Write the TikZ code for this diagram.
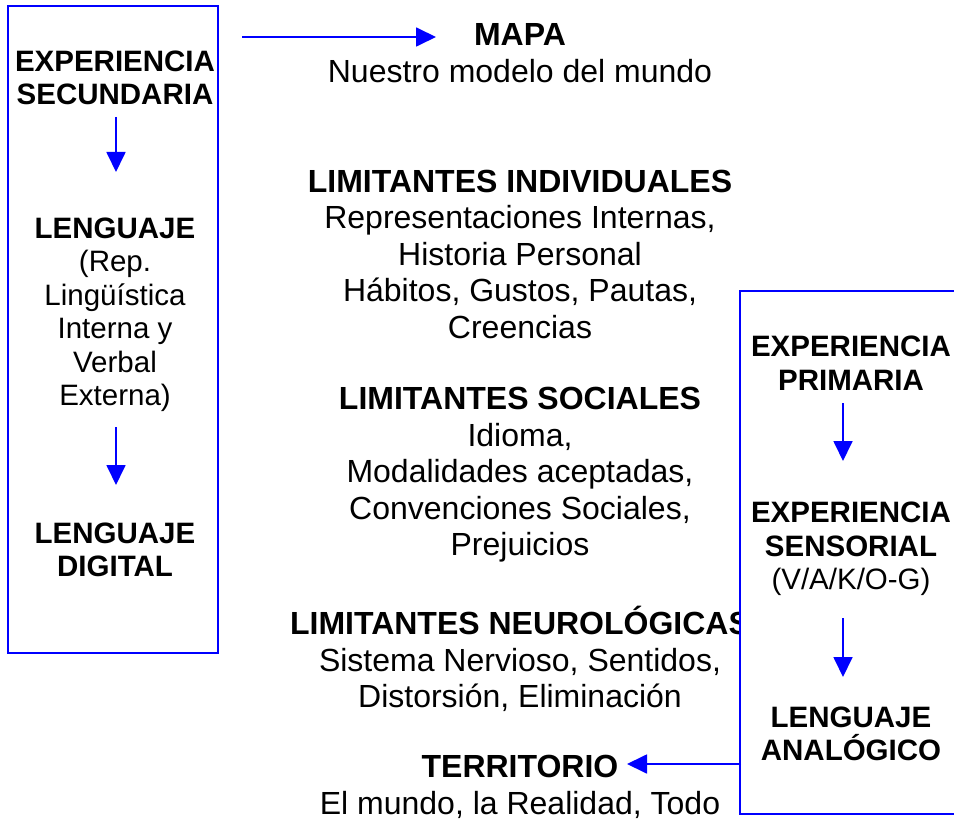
\documentclass[tikz,border=0pt]{standalone}
\usepackage{fontspec}
\setmainfont{Liberation Sans}
\usetikzlibrary{arrows.meta}
\definecolor{pureblue}{RGB}{0,0,255}
\tikzset{
  txt/.style={align=center, inner sep=0pt, font=\fontsize{32}{36.5}\selectfont},
  sidetxt/.style={align=center, inner sep=0pt, font=\fontsize{29.5}{33.5}\selectfont},
  arr/.style={draw=pureblue, line width=1.8pt, -{Triangle[length=20pt,width=19pt]}},
  box/.style={draw=pureblue, fill=white}
}
\begin{document}
\begin{tikzpicture}[x=1pt,y=-1pt]
\useasboundingbox (0,0) rectangle (954,824);
\clip (0,0) rectangle (954,824);
% left box
\draw[box, line width=2.5pt] (8,6) rectangle (218,653);
\node[sidetxt] (expsec) at (115,78) {\textbf{EXPERIENCIA}\\\textbf{SECUNDARIA}};
\node[sidetxt] (leng) at (115,315) {\textbf{LENGUAJE}\\(Rep.\\Lingüística\\Interna y\\Verbal\\Externa)};
\node[sidetxt] (digital) at (115,550) {\textbf{LENGUAJE}\\\textbf{DIGITAL}};
\coordinate (a1s) at (116,117); \coordinate (a1e) at (116,172);
\coordinate (a2s) at (116,427); \coordinate (a2e) at (116,485);
\draw[arr] (a1s) -- (a1e);
\draw[arr] (a2s) -- (a2e);
% middle
\node[txt] (mapa) at (520,53) {\textbf{MAPA}\\Nuestro modelo del mundo};
\node[txt] (limind) at (520,254) {\textbf{LIMITANTES INDIVIDUALES}\\Representaciones Internas,\\Historia Personal\\Hábitos, Gustos, Pautas,\\Creencias};
\node[txt] (limsoc) at (520,475) {\textbf{LIMITANTES SOCIALES}\\Idioma,\\Modalidades aceptadas,\\Convenciones Sociales,\\Prejuicios};
\node[txt] (limneu) at (520,659) {\textbf{LIMITANTES NEUROLÓGICAS}\\Sistema Nervioso, Sentidos,\\Distorsión, Eliminación};
\node[txt] (terr) at (520,787) {\textbf{TERRITORIO}\\El mundo, la Realidad, Todo};
\coordinate (t1s) at (242,37);
\coordinate (t1e) at (436,37);
\draw[arr] (t1s) -- (t1e);
% right box
\draw[box, line width=1.5pt] (740,291) rectangle (990,814);
\node[sidetxt] (expprim) at (851,363) {\textbf{EXPERIENCIA}\\\textbf{PRIMARIA}};
\node[sidetxt] (expsens) at (851,549) {\textbf{EXPERIENCIA}\\\textbf{SENSORIAL}\\(V/A/K/O-G)};
\node[sidetxt] (analog) at (851,734) {\textbf{LENGUAJE}\\\textbf{ANALÓGICO}};
\coordinate (b1s) at (843,403); \coordinate (b1e) at (843,461);
\coordinate (b2s) at (843,618); \coordinate (b2e) at (843,677);
\draw[arr] (b1s) -- (b1e);
\draw[arr] (b2s) -- (b2e);
\coordinate (t2s) at (741,764);
\coordinate (t2e) at (627,764);
\draw[arr] (t2s) -- (t2e);
\end{tikzpicture}
\end{document}
